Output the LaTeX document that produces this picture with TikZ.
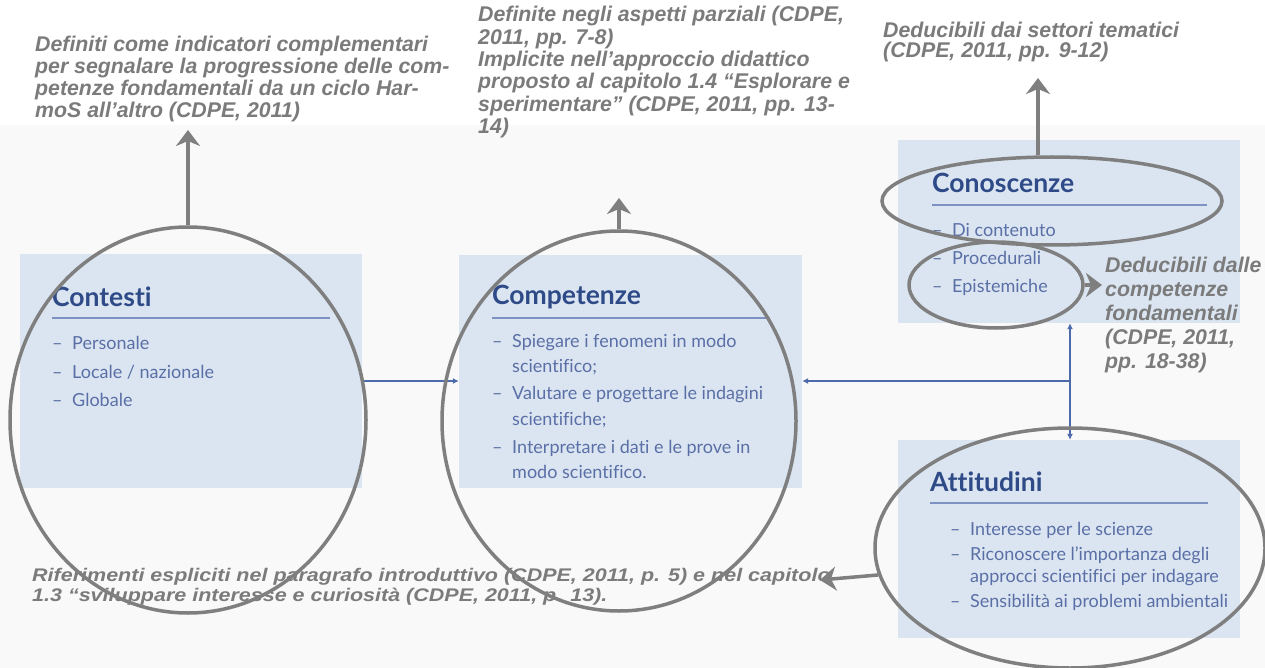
\documentclass[tikz,border=0pt]{standalone}
\usepackage{fontspec}
\usetikzlibrary{arrows.meta,shapes.geometric}
\newfontfamily\boxfont[Ligatures=NoCommon]{Lato}
\newfontfamily\notefont{Liberation Sans}
\definecolor{boxblue}{HTML}{DBE5F1}
\definecolor{titleblue}{HTML}{2E4A87}
\definecolor{itemblue}{HTML}{5A6FA6}
\definecolor{rulecol}{HTML}{7D91C2}
\definecolor{conncol}{HTML}{4D6AAA}
\definecolor{ringgray}{HTML}{7F7F7F}
\definecolor{notegray}{HTML}{7B7B7B}
\definecolor{bggray}{HTML}{F9F9F9}
\newcommand{\dsh}{\makebox[20pt][l]{–}}
\newcommand{\ind}{\hspace*{20pt}}
\tikzset{
  bluebox/.style={fill=boxblue, draw=none, inner sep=0pt},
  ttl/.style={font=\boxfont\bfseries\fontsize{26.5}{30}\selectfont, text=titleblue, anchor=west, inner sep=0pt},
  itm/.style={font=\boxfont\fontsize{18}{20}\selectfont, text=itemblue, anchor=west, inner sep=0pt},
  rulel/.style={draw=rulecol, line width=1.5pt},
  conn/.style={draw=conncol, line width=1.2pt},
  ctip/.style={-{Latex[length=6pt,width=6pt]}},
  ring/.style={draw=ringgray, line width=3.5pt, ellipse, inner sep=0pt},
  garrow/.style={draw=ringgray, line width=3.5pt, -{Stealth[length=16pt,width=24pt,inset=5pt]}},
  note/.style={font=\notefont\bfseries\itshape\fontsize{21.3}{21.8}\selectfont, text=notegray, anchor=north west, inner sep=0pt, align=left},
}
\begin{document}
\begin{tikzpicture}[x=1pt,y=-1pt]
\useasboundingbox (0,0) rectangle (1265,668);
\fill[white] (0,0) rectangle (1265,668);
\fill[bggray] (0,125) rectangle (1265,668);

% boxes
\node[bluebox, minimum width=342pt, minimum height=234pt] (bc1) at (191,371) {};
\node[bluebox, minimum width=343pt, minimum height=233pt] (bc2) at (630.5,371.5) {};
\node[bluebox, minimum width=342pt, minimum height=183pt] (bc3) at (1069,231.5) {};
\node[bluebox, minimum width=342pt, minimum height=198pt] (bc4) at (1069,539) {};

% Contesti
\node[ttl] (t1) at (52,297) {Contesti};
\draw[rulel] (52,318) -- (330,318);
\node[itm] (c1) at (52,343) {\dsh Personale};
\node[itm] (c2) at (52,372) {\dsh Locale / nazionale};
\node[itm] (c3) at (52,400) {\dsh Globale};

% Competenze
\node[ttl] (t2) at (492,297) {Competenze};
\draw[rulel] (492,318) -- (770,318);
\node[itm] (p1) at (492,343) {\dsh Spiegare i fenomeni in modo};
\node[itm] (p2) at (492,367) {\ind scientifico;};
\node[itm] (p3) at (492,395) {\dsh Valutare e progettare le indagini};
\node[itm] (p4) at (492,420) {\ind scientifiche;};
\node[itm] (p5) at (492,448) {\dsh Interpretare i dati e le prove in};
\node[itm] (p6) at (492,472) {\ind modo scientifico.};

% Conoscenze
\node[ttl] (t3) at (932,183) {Conoscenze};
\draw[rulel] (932,205) -- (1207,205);
\node[itm] (k1) at (932,230) {\dsh Di contenuto};
\node[itm] (k2) at (932,258) {\dsh Procedurali};
\node[itm] (k3) at (932,287) {\dsh Epistemiche};

% Attitudini
\node[ttl] (t4) at (930,482) {Attitudini};
\draw[rulel] (930,503) -- (1208,503);
\node[itm] (a1) at (950,530) {\dsh Interesse per le scienze};
\node[itm] (a2) at (950,555) {\dsh Riconoscere l’importanza degli};
\node[itm] (a3) at (950,578) {\ind approcci scientifici per indagare};
\node[itm] (a4) at (950,602) {\dsh Sensibilità ai problemi ambientali};

% blue connectors
\coordinate (jn) at (1070,381);
\draw[conn,ctip] (bc1.east |- jn) -- (bc2.west |- jn);
\draw[conn,ctip] (jn) -- (bc2.east |- jn);
\draw[conn,{Latex[length=6pt,width=6pt]}-{Latex[length=6pt,width=6pt]}] (bc3.south -| jn) -- (bc4.north -| jn);

% notes
\node[note] (n1) at (35,36) {Definiti come indicatori complementari\\per segnalare la progressione delle com-\\petenze fondamentali da un ciclo Har-\\moS all’altro (CDPE, 2011)};
\node[note, font=\notefont\bfseries\itshape\fontsize{21.3}{22.4}\selectfont] (n2) at (478,6) {Definite negli aspetti parziali (CDPE,\\2011, pp. 7-8)\\Implicite nell’approccio didattico\\proposto al capitolo 1.4 “Esplorare e\\sperimentare” (CDPE, 2011, pp. 13-\\14)};
\node[note, font=\notefont\bfseries\itshape\fontsize{21.3}{20}\selectfont] (n3) at (883,22) {Deducibili dai settori tematici\\(CDPE, 2011, pp. 9-12)};
\node[note, font=\notefont\bfseries\itshape\fontsize{21.3}{24}\selectfont] (n4) at (1105,257) {Deducibili dalle\\competenze\\fondamentali\\(CDPE, 2011,\\pp. 18-38)};
\node[note, font=\notefont\bfseries\itshape\fontsize{21.5}{23}\selectfont] (n5) at (32,568) {\scalebox{1}[0.85]{\begin{tabular}{@{}l@{}}Riferimenti espliciti nel paragrafo introduttivo (CDPE, 2011, p. 5) e nel capitolo\\1.3 “sviluppare interesse e curiosità (CDPE, 2011, p. 13).\end{tabular}}};

% highlight ellipses
\node[ring, minimum width=356pt, minimum height=386pt] (e1) at (188,420) {};
\node[ring, minimum width=354pt, minimum height=380pt] (e2) at (619,421) {};
\node[ring, minimum width=340pt, minimum height=88pt] (e3) at (1052,201) {};
\node[ring, minimum width=174pt, minimum height=86pt] (e4) at (996,285) {};
\node[ring, minimum width=390pt, minimum height=240pt] (e5) at (1070,548) {};

% gray arrows
\coordinate (g1) at (188,130);
\coordinate (g2) at (619,198);
\coordinate (g3) at (1038,78);
\coordinate (g4) at (1102,285);
\coordinate (g5) at (820,580);
\draw[garrow] (e1.north) -- (g1);
\draw[garrow] (e2.north) -- (g2);
\draw[garrow] (g3 |- e3.north) -- (g3);
\draw[garrow] (e4.east) -- (g4);
\draw[garrow] (e5.188) -- (g5);
\end{tikzpicture}
\end{document}
